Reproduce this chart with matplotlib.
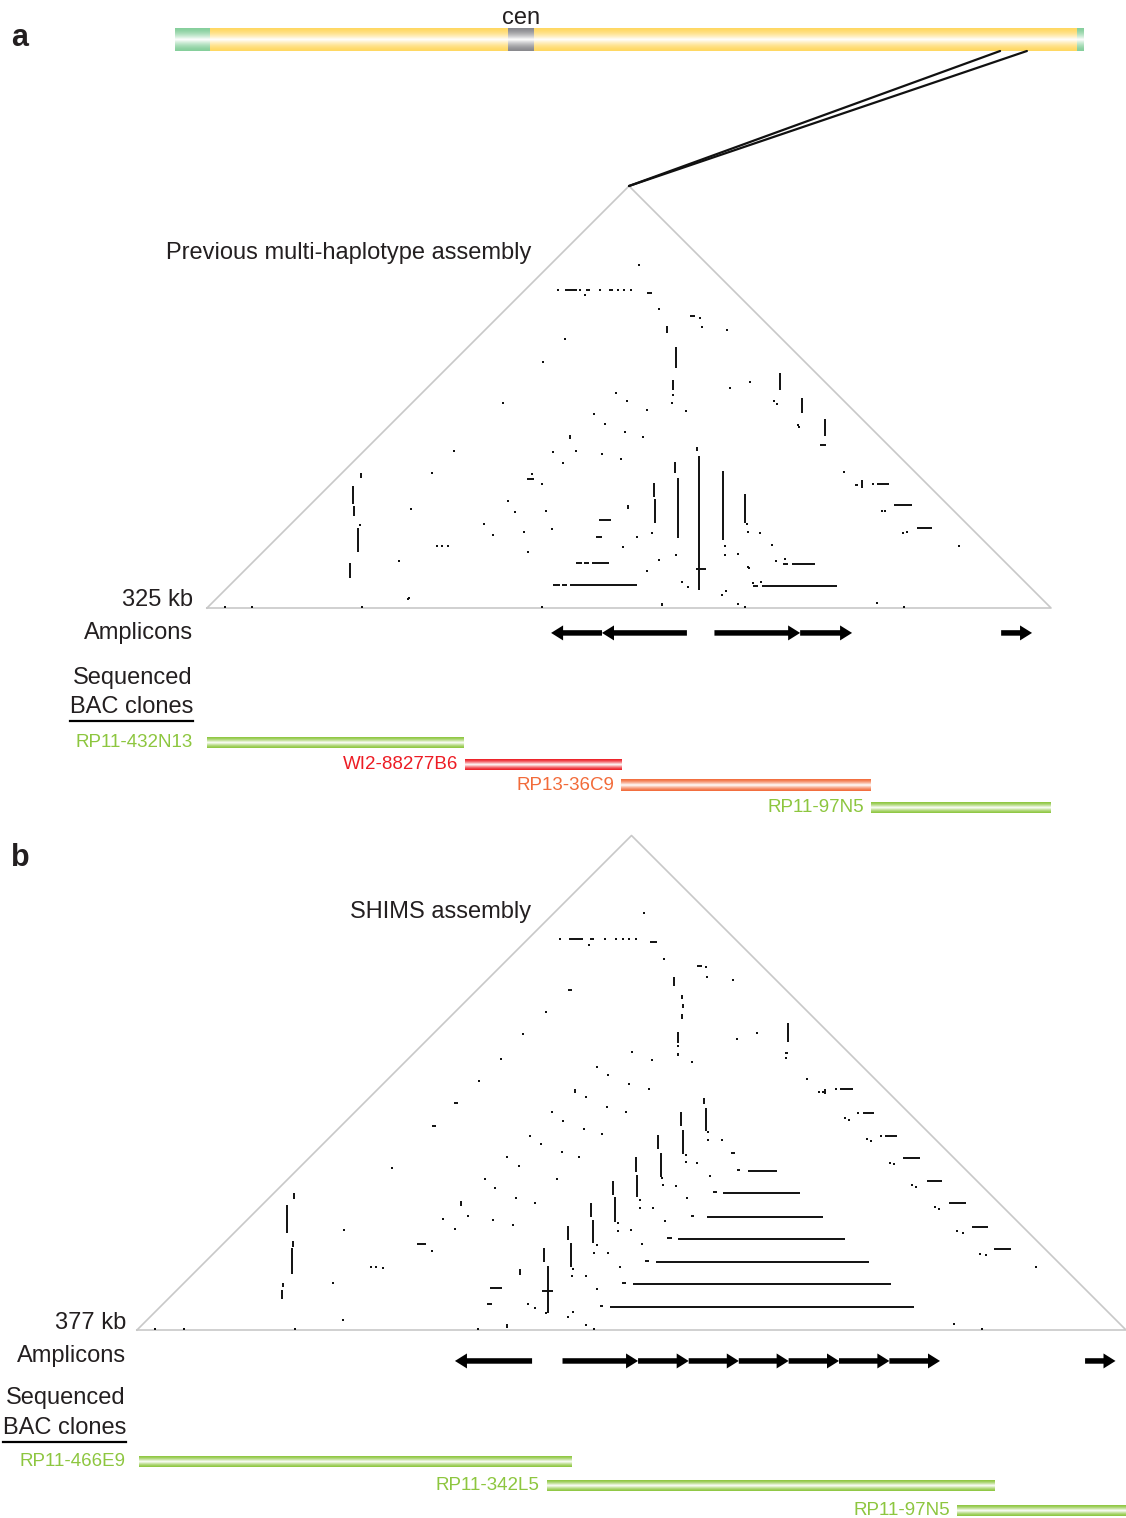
import numpy as np
import matplotlib
matplotlib.use("Agg")
import matplotlib.pyplot as plt
from matplotlib.colors import LinearSegmentedColormap
from matplotlib.collections import LineCollection
from matplotlib.patches import ConnectionPatch

plt.rcParams['font.family'] = ['Liberation Sans', 'DejaVu Sans']

# ---------------- chromosome ideogram (Mb) ----------------
chrom_len = 156.0
par1 = (0.0, 6.0)
par2 = (154.8, 156.0)
cen = (57.1, 61.6)
zoom_region = (141.6, 146.2)

# ---------------- panel a : previous assembly (kb) ----------------
a_len = 325
a_title = "Previous multi-haplotype assembly"
# vertical segments: (x, h_top, h_bottom)
a_vlines = [
    (189.5, 58.5, 6.9), (188.7, 62.0, 60.5), (181.4, 50.1, 27.0), (180.2, 56.2, 52.0),
    (198.7, 52.8, 26.2), (172.1, 48.1, 42.7), (172.5, 42.0, 32.7), (207.2, 43.9, 32.7),
    (220.7, 90.5, 84.0), (229.1, 80.9, 75.1), (238.0, 72.8, 66.2),
    (56.2, 47.0, 40.1), (58.1, 30.8, 21.6), (59.3, 52.0, 50.1), (55.1, 17.3, 11.6),
    (56.6, 39.3, 35.4), (177.1, 108.6, 105.9), (180.6, 100.5, 92.4), (179.5, 87.8, 84.0),
    (139.8, 66.6, 65.1), (162.1, 39.7, 38.1), (175.2, 1.9, 0.6), (252.2, 49.3, 46.2),
]
# horizontal segments: (h, x_start, x_end)
a_hlines = [
    (8.9, 139.8, 165.6), (8.9, 133.2, 135.9), (8.9, 136.7, 138.6),
    (17.3, 148.3, 154.8), (17.3, 142.1, 144.4), (17.3, 145.2, 147.1),
    (33.9, 151.0, 155.6), (27.3, 149.8, 152.1), (49.7, 123.2, 125.9),
    (8.5, 213.7, 242.6), (8.5, 210.3, 212.2), (16.9, 225.3, 234.1), (16.9, 221.8, 223.7),
    (47.8, 258.0, 262.6), (39.7, 264.6, 271.5), (30.8, 273.4, 279.2), (62.8, 236.1, 238.4),
    (122.5, 137.9, 142.5), (122.5, 145.9, 147.5), (122.5, 154.8, 156.3), (121.3, 169.4, 171.4),
    (112.4, 186.0, 187.9), (15.0, 188.3, 192.2), (47.4, 249.5, 250.7),
]
a_dots_x = [135.2, 143.6, 151.3, 158.3, 160.6, 163.3, 145.6, 166.4, 174.1, 189.9, 190.5, 200.3,
            137.9, 129.4, 114.0, 157.5, 161.7, 169.4, 149.0, 153.3, 161.0, 167.9, 201.4, 209.1,
            179.1, 184.5, 179.5, 218.4, 219.5, 227.6, 228.0, 95.1, 133.2, 142.1, 152.1, 159.4,
            137.1, 86.6, 129.0, 78.6, 115.9, 118.6, 130.5, 106.7, 110.1, 122.1, 132.9, 88.6,
            90.5, 92.8, 123.6, 160.2, 165.6, 171.4, 73.9, 77.8, 59.7, 129.0, 169.4, 174.1,
            180.6, 182.9, 185.2, 199.5, 204.5, 208.3, 198.3, 199.9, 204.5, 207.2, 207.8, 208.3,
            213.0, 217.6, 199.5, 208.7, 219.1, 222.6, 210.3, 213.3, 258.0, 268.4, 245.3, 256.5,
            259.9, 261.1, 268.0, 269.6, 289.6, 6.9, 17.3, 77.4, 125.1, 58.9]
a_dots_h = [122.5, 122.5, 122.5, 122.5, 122.5, 122.5, 120.5, 132.1, 115.1, 111.8, 108.3, 107.1,
            103.6, 94.7, 78.9, 82.8, 79.7, 76.2, 74.7, 70.9, 67.8, 65.9, 84.7, 87.0,
            78.9, 75.9, 82.0, 79.7, 78.6, 70.5, 69.7, 60.5, 60.1, 60.5, 59.3, 57.4,
            55.8, 52.0, 47.8, 38.1, 41.2, 37.0, 37.4, 32.3, 28.1, 29.3, 30.4, 23.9,
            23.9, 23.9, 21.6, 23.5, 27.3, 28.9, 18.1, 3.9, 0.4, 0.4, 14.2, 18.5,
            20.4, 10.0, 8.1, 20.4, 20.8, 15.8, 5.0, 6.5, 1.5, 0.4, 32.3, 29.3,
            28.9, 24.3, 23.9, 15.4, 18.1, 18.9, 9.6, 10.0, 1.9, 0.4, 52.4, 47.8,
            37.4, 37.4, 28.9, 29.3, 23.9, 0.4, 0.4, 3.5, 51.6, 32.0]
# amplicon arrows: (tail, tip)
a_amplicons = [(184.8, 152.1), (152.1, 132.5), (195.4, 228.4), (228.4, 248.4), (305.8, 317.7)]
a_clones = ["RP11-432N13", "WI2-88277B6", "RP13-36C9", "RP11-97N5"]
a_clone_start = [0.0, 99.4, 159.6, 255.7]
a_clone_end = [98.8, 159.6, 255.7, 325.0]
a_clone_colors = ["#8dc63f", "#ed1c24", "#f26b3a", "#8dc63f"]

# ---------------- panel b : SHIMS assembly (kb) ----------------
b_len = 377
b_title = "SHIMS assembly"
b_vlines = [
    (216.9, 84.6, 75.9), (216.3, 88.4, 86.2), (208.3, 76.2, 67.1), (207.3, 83.1, 77.8),
    (199.9, 67.6, 58.4), (198.7, 74.3, 69.0), (190.7, 59.1, 50.7), (190.2, 65.9, 60.2),
    (182.3, 50.6, 41.3), (181.6, 56.8, 51.5), (173.7, 41.9, 33.0), (173.1, 48.4, 43.1),
    (165.3, 33.0, 24.1), (164.3, 39.6, 34.3), (156.6, 24.4, 6.6), (155.3, 31.3, 25.9),
    (146.0, 23.3, 20.9), (141.2, 2.3, 0.8),
    (57.1, 47.7, 37.1), (60.0, 52.3, 49.8), (59.0, 31.1, 21.3), (59.6, 34.0, 31.6),
    (55.8, 17.8, 16.3), (55.3, 15.2, 11.7),
    (204.8, 134.7, 131.1), (207.9, 127.7, 126.1), (208.3, 124.3, 122.6), (207.9, 120.3, 118.4),
    (206.1, 113.7, 109.3), (206.1, 105.5, 104.4), (248.3, 116.9, 109.9), (167.0, 92.0, 90.5),
    (123.5, 49.3, 47.3), (262.3, 91.8, 89.9),
]
b_hlines = [
    (60.7, 232.9, 244.0), (52.1, 223.4, 252.7), (43.2, 217.3, 261.4), (34.6, 206.2, 269.9),
    (25.9, 197.8, 279.0), (17.4, 189.2, 287.4), (8.8, 180.3, 296.1),
    (61.1, 228.7, 229.9), (52.5, 219.6, 221.1), (43.6, 211.2, 212.3), (35.0, 202.0, 203.9),
    (26.3, 193.7, 195.2), (17.8, 184.9, 186.4), (9.1, 176.5, 177.6),
    (91.8, 268.0, 272.8), (82.8, 276.6, 280.9), (74.1, 285.1, 289.8), (65.5, 291.9, 298.5),
    (56.9, 301.0, 307.0), (48.3, 309.7, 316.0), (39.4, 318.2, 324.5), (30.8, 326.8, 333.2),
    (149.2, 164.8, 170.1), (149.2, 172.7, 174.2), (147.9, 195.6, 198.1), (138.8, 213.4, 215.3),
    (129.6, 164.2, 165.8), (86.4, 121.0, 122.4), (77.8, 112.4, 113.8), (32.7, 106.9, 110.0),
    (16.1, 134.6, 139.3), (10.0, 133.5, 135.4), (14.9, 154.4, 158.6), (105.7, 247.0, 248.3),
    (67.4, 226.6, 227.8),
]
b_dots_x = [161.2, 178.4, 182.6, 185.4, 187.7, 190.2, 172.4, 193.4, 201.0, 216.9, 217.4, 227.3,
            206.1, 155.9, 147.3, 138.9, 188.8, 196.2, 211.4, 175.5, 179.7, 228.6, 236.5, 247.3,
            255.5, 130.3, 171.2, 187.7, 195.1, 179.2, 186.5, 158.3, 162.5, 170.5, 177.3, 149.8,
            154.1, 162.0, 168.6, 141.2, 145.5, 97.3, 132.5, 160.1, 136.5, 144.4, 151.7, 126.1,
            116.8, 135.8, 143.2, 121.1, 112.6, 93.7, 149.2, 151.7, 155.9, 164.4, 166.3, 171.2,
            174.2, 129.9, 217.8, 223.1, 209.2, 213.3, 218.4, 200.6, 205.3, 209.8, 191.7, 196.8,
            201.3, 183.5, 188.2, 192.6, 174.2, 179.7, 184.1, 165.7, 171.2, 175.5, 217.8, 209.2,
            200.2, 191.9, 183.5, 175.3, 166.3, 78.9, 89.2, 91.1, 74.7, 78.5, 6.9, 17.9,
            60.2, 266.5, 275.0, 283.5, 260.0, 261.5, 270.0, 271.5, 278.3, 279.8, 287.0, 288.6,
            295.3, 296.9, 304.2, 305.7, 312.5, 314.7, 321.4, 323.5, 342.7, 311.5, 322.0]
b_dots_h = [149.2, 149.2, 149.2, 149.2, 149.2, 149.2, 146.8, 158.8, 141.3, 138.3, 134.7, 133.4,
            108.3, 121.1, 112.7, 103.3, 105.9, 102.8, 102.2, 100.3, 97.3, 110.8, 113.1, 103.8,
            95.7, 94.9, 88.7, 93.7, 91.8, 85.0, 83.2, 83.0, 79.8, 76.5, 74.7, 74.1,
            71.0, 68.0, 66.1, 65.8, 62.5, 61.9, 57.4, 57.7, 54.0, 50.2, 48.3, 43.6,
            42.3, 41.8, 40.0, 38.4, 30.1, 23.5, 10.0, 8.3, 6.4, 5.1, 7.0, 1.9,
            0.4, 0.4, 72.4, 72.4, 64.2, 63.5, 58.8, 55.3, 55.0, 50.2, 46.4, 46.6,
            41.7, 37.7, 38.0, 32.7, 29.2, 29.2, 24.0, 20.7, 20.7, 15.5, 75.4, 66.6,
            58.1, 49.7, 40.9, 32.5, 23.1, 38.1, 24.0, 24.0, 17.9, 3.8, 0.4, 0.4,
            0.4, 91.8, 82.8, 74.1, 90.7, 90.7, 80.8, 80.2, 72.8, 72.2, 63.8, 63.2,
            55.3, 54.7, 46.8, 46.2, 37.7, 37.1, 29.0, 28.4, 23.9, 2.2, 0.3]
b_amplicons = [(150.6, 121.2), (162.2, 191.0), (191.0, 210.3), (210.3, 229.4), (229.4, 248.4),
               (248.4, 267.6), (267.6, 286.8), (286.8, 306.1), (361.4, 373.0)]
b_clones = ["RP11-466E9", "RP11-342L5", "RP11-97N5"]
b_clone_start = [0.6, 156.1, 312.5]
b_clone_end = [165.3, 326.7, 377.0]
b_clone_colors = ["#8dc63f", "#8dc63f", "#8dc63f"]

# ---------------- figure ----------------
W, H = 1126, 1518
fig = plt.figure(figsize=(W / 100, H / 100), dpi=100)


def px_axes(x0, x1, y0, y1):
    return fig.add_axes([x0 / W, 1 - y1 / H, (x1 - x0) / W, (y1 - y0) / H])


def grad_bar(ax, x0, x1, y0, y1, color, power=1.0, zorder=2):
    t = np.linspace(0, 1, 80)
    v = (1 - np.abs(t - 0.5) * 2) ** power
    cmap = LinearSegmentedColormap.from_list("g", [color, "white"])
    ax.imshow(v[:, None], cmap=cmap, vmin=0, vmax=1, extent=(x0, x1, y0, y1),
              aspect="auto", interpolation="bilinear", origin="lower", zorder=zorder)


# ideogram
ax_id = px_axes(175, 1084, 28, 51)
grad_bar(ax_id, par1[0], par1[1], 0, 1, "#86cf9c", 1.6)
grad_bar(ax_id, par1[1], cen[0], 0, 1, "#ffd863", 1.6)
grad_bar(ax_id, cen[0], cen[1], 0, 1, "#8a8a8e", 1.6)
grad_bar(ax_id, cen[1], par2[0], 0, 1, "#ffd863", 1.6)
grad_bar(ax_id, par2[0], par2[1], 0, 1, "#86cf9c", 1.6)
ax_id.set_xlim(0, chrom_len)
ax_id.set_ylim(0, 1)
ax_id.axis("off")
ax_id.text(np.mean(cen), 1.17, "cen", ha="center", va="baseline", fontsize=17, color="#231f20")


def draw_panel(x0px, x1px, base_px, top_px, bottom_px, length, title, title_x, title_h,
               vlines, hlines, dots_x, dots_h, amplicons, amp_h,
               clones, c_start, c_end, c_colors, clone_h0, row_px, label_x, lab_h):
    s = (x1px - x0px) / length
    ax = px_axes(x0px, x1px, top_px, bottom_px)
    ax.axis("off")
    half = length / 2
    ax.plot([0, half, length, 0], [0, half, 0, 0], color="#c8c8c8", lw=1.2,
            clip_on=False, zorder=1)
    segs = [[(x, h1), (x, h2)] for x, h1, h2 in vlines]
    segs += [[(xa, h), (xb, h)] for h, xa, xb in hlines]
    ax.add_collection(LineCollection(segs, colors="#111111", linewidths=1.4, zorder=3))
    ax.plot(dots_x, dots_h, ls="none", marker="s", ms=1.6, mew=0, color="#111111", zorder=3)
    for tail, tip in amplicons:
        ax.arrow(tail, amp_h, tip - tail, 0, width=5.5 / s, head_width=15 / s,
                 head_length=12 / s, length_includes_head=True, fc="k", ec="k", lw=0,
                 zorder=4)
    row = row_px / s
    bar_h = 11 / s
    for i, (name, xa, xb, col) in enumerate(zip(clones, c_start, c_end, c_colors)):
        yc = clone_h0 - i * row
        grad_bar(ax, xa, xb, yc - bar_h / 2, yc + bar_h / 2, col, 1.4)
        ax.text(xa - 7 / s if i else label_x, yc, name, ha="right", va="center",
                fontsize=13.5, color=col)
    ax.text(title_x, title_h, title, ha="right", va="center", fontsize=17, color="#231f20")
    ax.text(label_x, lab_h[0], f"{length} kb", ha="right", va="center", fontsize=17,
            color="#231f20")
    ax.text(label_x, lab_h[1], "Amplicons", ha="right", va="center", fontsize=17,
            color="#231f20")
    ax.text(label_x, lab_h[2], "Sequenced", ha="right", va="center", fontsize=17,
            color="#231f20")
    bac = ax.text(label_x, lab_h[3], "BAC clones", ha="right", va="center", fontsize=17,
                  color="#231f20")
    ax.set_xlim(0, length)
    ax.set_ylim((base_px - bottom_px) / s, (base_px - top_px) / s)
    return ax, bac


ax_a, bac_a = draw_panel(207, 1051, 608, 180, 830, a_len, a_title, 124.8, 136.7,
                         a_vlines, a_hlines, a_dots_x, a_dots_h, a_amplicons, -9.6,
                         a_clones, a_clone_start, a_clone_end, a_clone_colors, -51.8, 21.6,
                         -5.4, [3.1, -9.6, -27.0, -38.3])
ax_b, bac_b = draw_panel(137, 1126, 1330, 830, 1518, b_len, b_title, 150.2, 159.4,
                         b_vlines, b_hlines, b_dots_x, b_dots_h, b_amplicons, -11.8,
                         b_clones, b_clone_start, b_clone_end, b_clone_colors, -50.1, 24.5,
                         -4.2, [2.7, -9.9, -26.0, -37.2])

# underline under "BAC clones"
fig.canvas.draw()
for ax, t in [(ax_a, bac_a), (ax_b, bac_b)]:
    bb = t.get_window_extent()
    inv = ax.transData.inverted()
    (ux0, uy), (ux1, _) = inv.transform([(bb.x0, bb.y0 - 3), (bb.x1, bb.y0 - 3)])
    ax.plot([ux0, ux1], [uy, uy], color="k", lw=1.6, clip_on=False)

# link from chromosome to the zoomed region
for xz in zoom_region:
    con = ConnectionPatch(xyA=(xz, 0), coordsA=ax_id.transData,
                          xyB=(a_len / 2, a_len / 2), coordsB=ax_a.transData,
                          color="#111111", lw=1.6)
    fig.add_artist(con)

fig.text(11 / W, 1 - 38 / H, "a", fontsize=22, fontweight="bold", va="center", color="#231f20")
fig.text(11 / W, 1 - 858 / H, "b", fontsize=22, fontweight="bold", va="center", color="#231f20")

fig.savefig("out.png", dpi=100)
